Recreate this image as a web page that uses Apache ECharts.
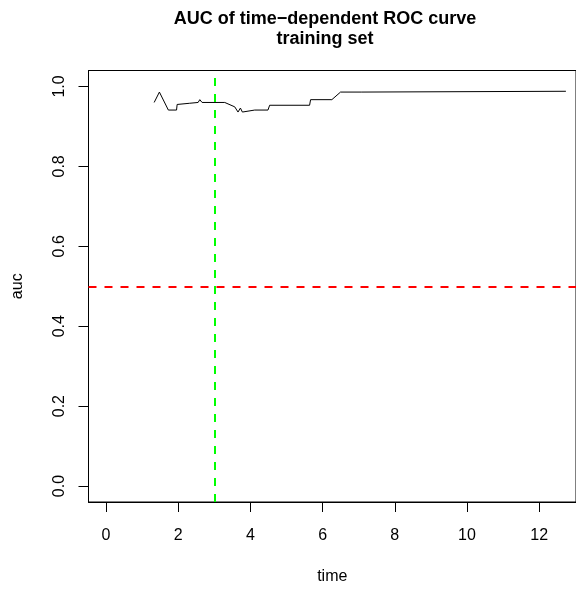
<!DOCTYPE html>
<html>
<head>
<meta charset="utf-8">
<script src="https://cdn.jsdelivr.net/npm/echarts@6/dist/echarts.min.js"></script>
<style>
  html, body { margin: 0; padding: 0; background: #fff; }
  #main { width: 576px; height: 590px; }
</style>
</head>
<body>
<div id="main"></div>
<script>
var timePoints = [1.335, 1.48, 1.728, 1.955, 1.971, 2.32, 2.552, 2.599, 2.662, 3.29,
  3.567, 3.658, 3.724, 3.779, 4.12, 4.487, 4.534, 5.64, 5.668, 6.257,
  6.497, 7.07, 7.105, 12.74];
var aucValues = [0.960, 0.986, 0.941, 0.941, 0.955, 0.958, 0.960, 0.967, 0.960, 0.960,
  0.949, 0.936, 0.946, 0.936, 0.941, 0.941, 0.953, 0.953, 0.967, 0.967,
  0.986, 0.986, 0.988, 0.988];
var xTicks = [0, 2, 4, 6, 8, 10, 12];
var yTicks = [0, 0.2, 0.4, 0.6, 0.8, 1.0];
var refTime = 3;
var refAuc = 0.5;

var chartDom = document.getElementById('main');
var myChart = echarts.init(chartDom);
var option;

var font = 'Liberation Sans';

option = {
  animation: false,
  backgroundColor: '#fff',
  title: {
    text: 'AUC of time\u2212dependent ROC curve\ntraining set',
    left: 320,
    top: 4,
    textAlign: 'center',
    textStyle: {
      fontFamily: font,
      fontSize: 18,
      fontWeight: 'bold',
      lineHeight: 20,
      color: '#000'
    }
  },
  grid: {
    left: 88.5,
    top: 70.5,
    right: -1,
    bottom: 85.5,
    show: true,
    borderColor: '#000',
    borderWidth: 1
  },
  xAxis: {
    type: 'value',
    min: -0.484,
    max: 13.02,
    name: 'time',
    nameLocation: 'middle',
    nameGap: 67,
    nameTextStyle: { fontFamily: font, fontSize: 16, color: '#000' },
    splitLine: { show: false },
    axisLine: { show: true, onZero: false, lineStyle: { color: '#000', width: 1 } },
    axisTick: { show: true, length: 10, customValues: xTicks, lineStyle: { color: '#000' } },
    axisLabel: {
      customValues: xTicks,
      margin: 26,
      fontFamily: font,
      fontSize: 16,
      color: '#000'
    }
  },
  yAxis: {
    type: 'value',
    min: -0.04,
    max: 1.04,
    name: 'auc',
    nameLocation: 'middle',
    nameGap: 63,
    nameTextStyle: { fontFamily: font, fontSize: 16, color: '#000' },
    splitLine: { show: false },
    axisLine: { show: true, onZero: false, lineStyle: { color: '#000', width: 1 } },
    axisTick: { show: true, length: 10, customValues: yTicks, lineStyle: { color: '#000' } },
    axisLabel: {
      customValues: yTicks,
      rotate: 90,
      margin: 21,
      fontFamily: font,
      fontSize: 16,
      color: '#000',
      formatter: function (v) { return v.toFixed(1); }
    }
  },
  series: [
    {
      type: 'line',
      data: timePoints.map(function (t, i) { return [t, aucValues[i]]; }),
      showSymbol: false,
      symbol: 'none',
      lineStyle: { color: '#000', width: 1 },
      markLine: {
        silent: true,
        symbol: 'none',
        label: { show: false },
        data: [
          { yAxis: refAuc, lineStyle: { color: '#ff0000', width: 2, type: [8, 8] } },
          { xAxis: refTime, lineStyle: { color: '#00ff00', width: 2, type: [8, 8] } }
        ]
      }
    }
  ]
};

option && myChart.setOption(option);
</script>
</body>
</html>
